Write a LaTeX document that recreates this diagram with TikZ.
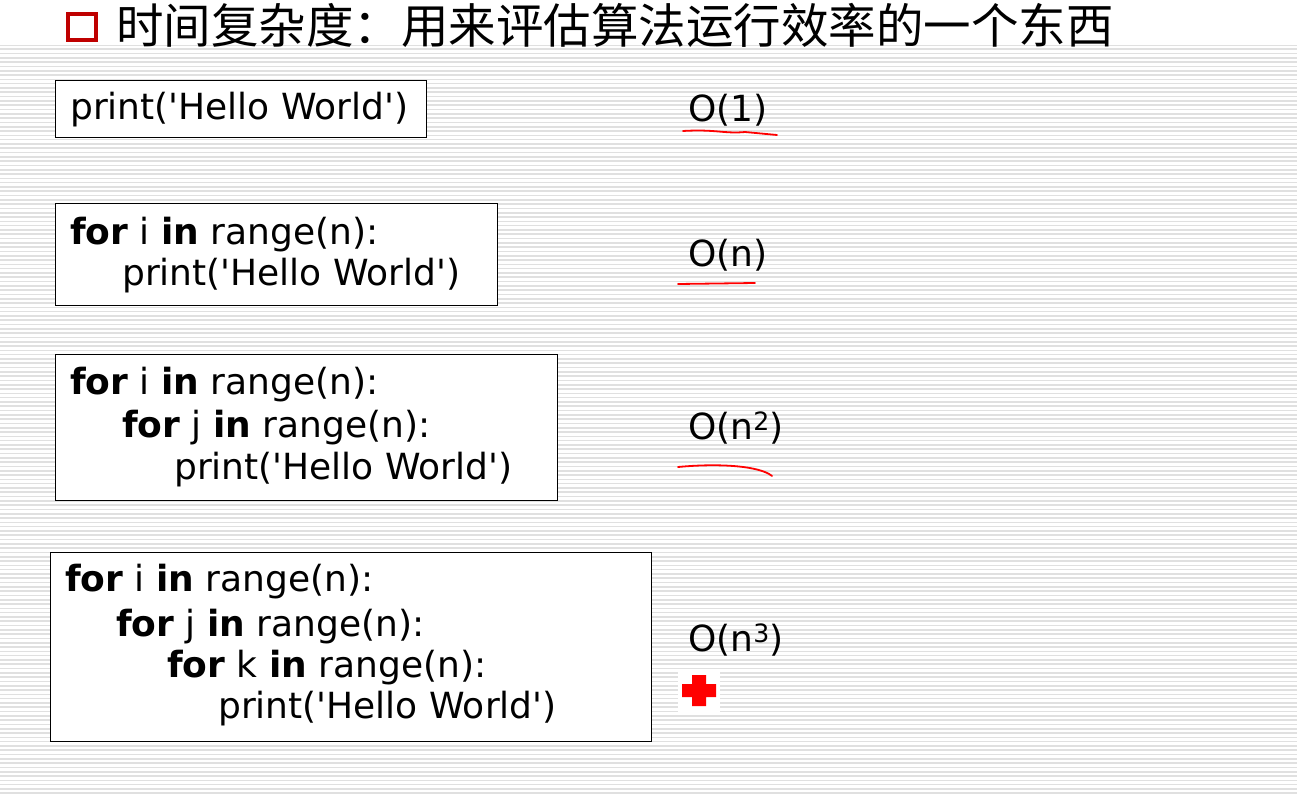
\documentclass[tikz,border=0pt]{standalone}
\usepackage{fontspec}
\setmainfont{DejaVu Sans}
\newfontfamily\cjk{Noto Sans CJK SC}
\newcommand{\q}{\textquotesingle}
\begin{document}
\begin{tikzpicture}[x=1pt,y=-1pt,
  codebox/.style={draw,line width=1.3pt,anchor=north west,inner sep=0pt},
  line/.style={anchor=west,inner sep=0pt,font=\fontsize{36}{38}\selectfont},
  redink/.style={red,line width=1.8pt,line cap=round}]
\useasboundingbox (0,0) rectangle (1297,797);
\foreach \y in {2,6.3,...,797} \draw[black!12,line width=1.6pt] (0,\y) -- (1297,\y);
\fill[white] (0,0) rectangle (1297,45);

% title
\draw[red!75!black,line width=3.5pt] (68,14) rectangle (96,40);
\node[anchor=west,inner sep=0pt,font=\cjk\fontsize{47.5}{50}\selectfont] (title) at (116,25) {时间复杂度：用来评估算法运行效率的一个东西};

% code boxes
\node[codebox,fill=white,minimum width=371,minimum height=57] (b1) at (55,80) {};
\node[codebox,fill=white,minimum width=442,minimum height=102] (b2) at (55,203) {};
\node[codebox,fill=white,minimum width=502,minimum height=146] (b3) at (55,354) {};
\node[codebox,fill=white,minimum width=601,minimum height=189] (b4) at (50,552) {};

\node[line] (l11) at (70,110) {print(\q Hello World\q)};
\node[line] (l21) at (70,235) {\textbf{for} i \textbf{in} range(n):};
\node[line] (l22) at (122,276) {print(\q Hello World\q)};
\node[line] (l31) at (70,385) {\textbf{for} i \textbf{in} range(n):};
\node[line] (l32) at (122,428) {\textbf{for} j \textbf{in} range(n):};
\node[line] (l33) at (174,470) {print(\q Hello World\q)};
\node[line] (l41) at (65,582) {\textbf{for} i \textbf{in} range(n):};
\node[line] (l42) at (116,627) {\textbf{for} j \textbf{in} range(n):};
\node[line] (l43) at (167,668) {\textbf{for} k \textbf{in} range(n):};
\node[line] (l44) at (218,709) {print(\q Hello World\q)};

% complexity
\node[line] (o1) at (688,110) {O(1)};
\node[line] (o2) at (688,255) {O(n)};
\node[line] (o3) at (688,428) {O(n\textsuperscript{2})};
\node[line] (o4) at (688,640) {O(n\textsuperscript{3})};

\draw[redink] (683,131) .. controls (715,129) and (725,134) .. (745,132) -- (777,135);
\draw[redink] (678,284) -- (755,283);
\draw[redink] (678,467) .. controls (720,463) and (760,466) .. (772,476);
\fill[white] (678,670) rectangle (720,712);
\fill[red] (692,675) rectangle (706,706) (682,684) rectangle (716,697);
\end{tikzpicture}
\end{document}
